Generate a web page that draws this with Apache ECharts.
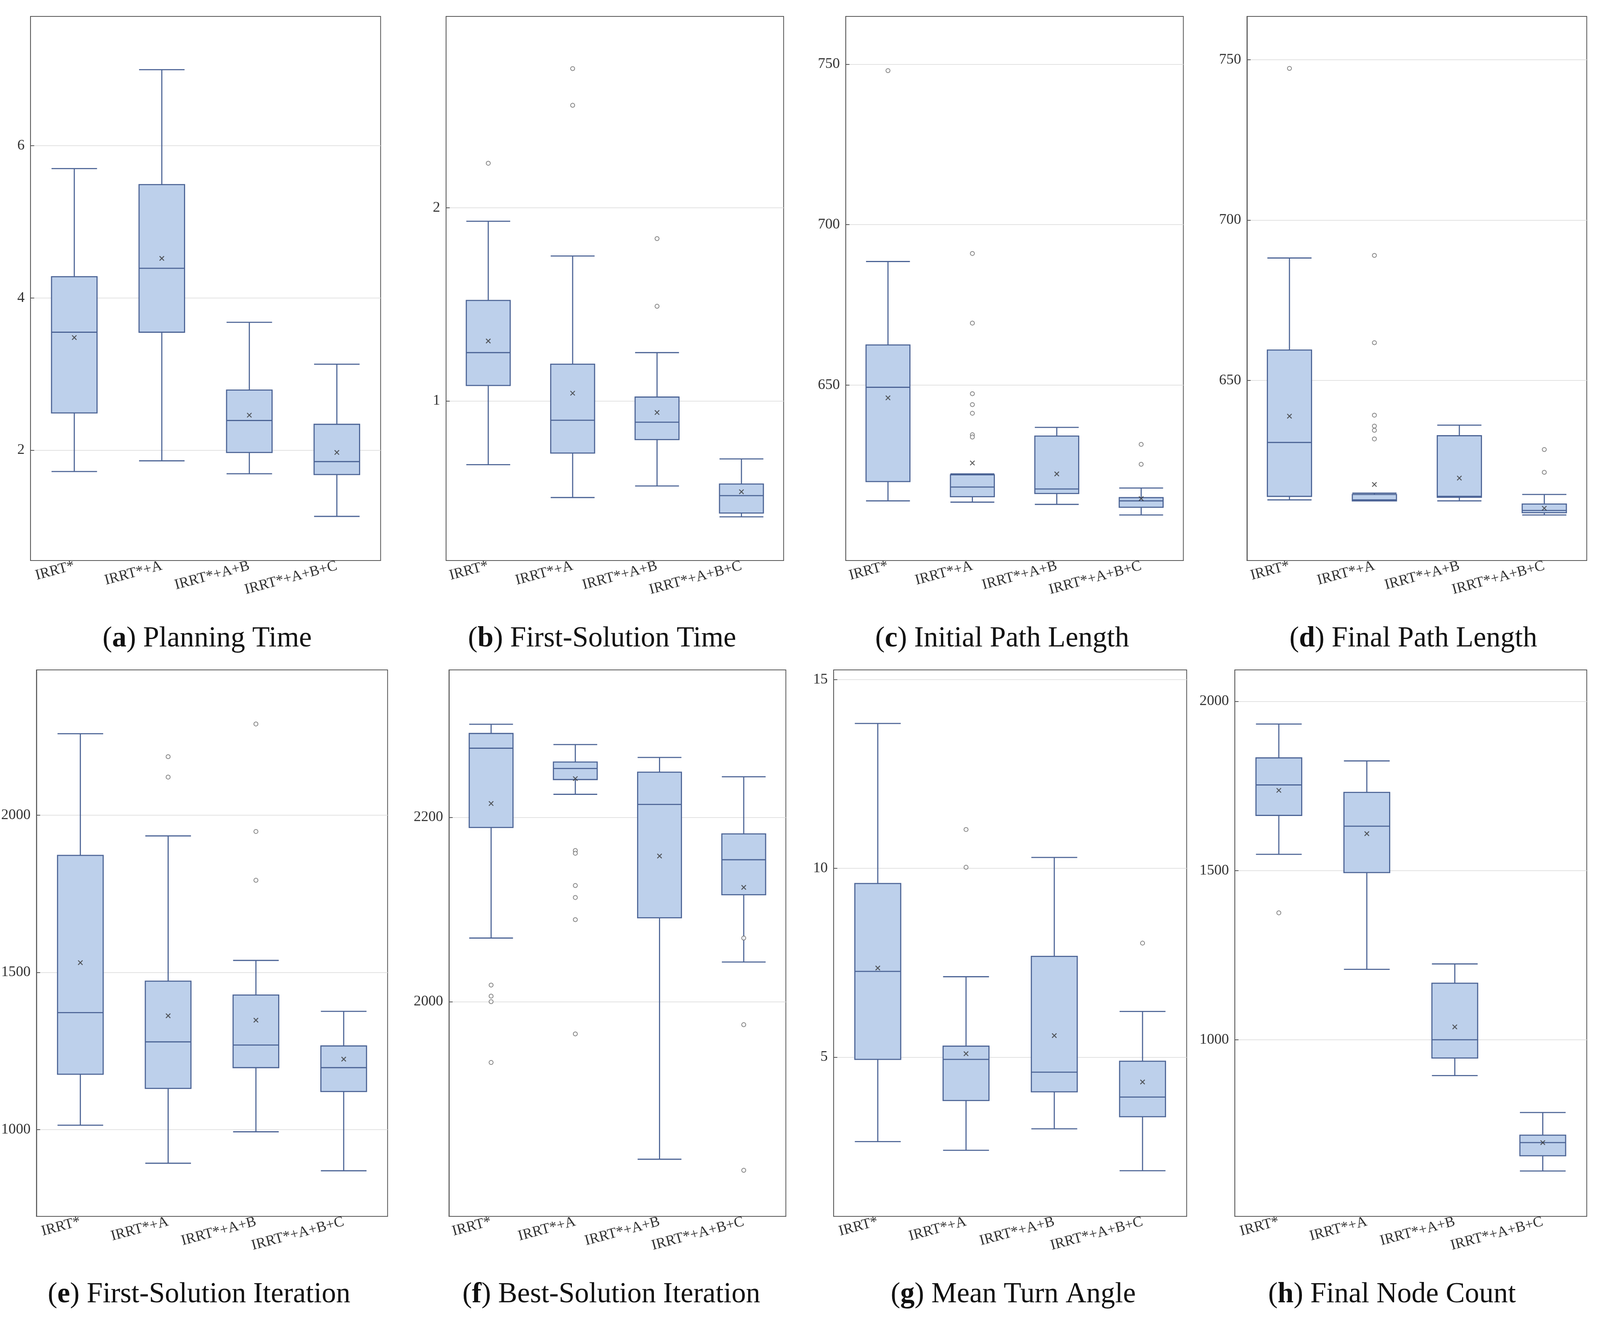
<!DOCTYPE html>
<html>
<head>
<meta charset="utf-8">
<title>Boxplots</title>
<script src="https://cdn.jsdelivr.net/npm/echarts@6/dist/echarts.min.js"></script>
<style>html,body{margin:0;background:#fff;overflow:hidden}</style>
</head>
<body>
<div id="main"></div>
<script>
var categories = ['IRRT*', 'IRRT*+A', 'IRRT*+A+B', 'IRRT*+A+B+C'];
var captions = [['a','Planning Time'],['b','First-Solution Time'],['c','Initial Path Length'],['d','Final Path Length'],
  ['e','First-Solution Iteration'],['f','Best-Solution Iteration'],['g','Mean Turn Angle'],['h','Final Node Count']];

// [min, Q1, median, Q3, max]
var planningBox = [[1.72,2.49,3.55,4.28,5.7],[1.86,3.55,4.39,5.49,7.0],[1.69,1.97,2.39,2.79,3.68],[1.13,1.68,1.85,2.34,3.13]];
var planningMean = [3.48,4.52,2.46,1.97];
var planningOut = [[],[],[],[]];

var firstTimeBox = [[0.67,1.08,1.25,1.52,1.93],[0.50,0.73,0.90,1.19,1.75],[0.56,0.80,0.89,1.02,1.25],[0.40,0.42,0.51,0.57,0.70]];
var firstTimeMean = [1.31,1.04,0.94,0.53];
var firstTimeOut = [[2.23],[2.72,2.53],[1.84,1.49],[]];

var initLenBox = [[613.9,619.9,649.3,662.5,688.5],[613.5,615.2,618.2,622,622.3],[612.8,616.2,617.6,634.1,636.8],[609.5,611.9,613.9,614.9,617.9]];
var initLenMean = [646,625.7,622.3,614.6];
var initLenOut = [[748],[691,669.3,647.3,643.9,641.2,634.5,633.8],[],[631.5,625.3]];

var finalLenBox = [[612.8,613.9,630.7,659.5,688.2],[612.5,612.5,612.8,614.5,614.9],[612.5,613.6,613.9,632.8,636.1],[608.1,608.8,609.5,611.5,614.5]];
var finalLenMean = [638.9,617.6,619.6,610.2];
var finalLenOut = [[747.3],[689,661.8,639.2,635.8,634.5,631.8],[],[628.5,621.4]];

var firstIterBox = [[1014,1176,1372,1872,2259],[893,1131,1279,1472,1934],[993,1197,1269,1428,1538],[869,1121,1197,1266,1376]];
var firstIterMean = [1531,1362,1348,1224];
var firstIterOut = [[],[2186,2121],[2290,1948,1793],[]];

var bestIterBox = [[2069,2189,2275,2291,2301],[2225,2241,2253,2260,2279],[1829,2091,2214,2249,2265],[2043,2116,2154,2182,2244]];
var bestIterMean = [2215,2242,2158,2124];
var bestIterOut = [[2018,2006,2000,1934],[2164,2161,2126,2113,2089,1965],[],[2069,1975,1817]];

var turnBox = [[2.76,4.94,7.27,9.6,13.84],[2.53,3.85,4.94,5.29,7.13],[3.1,4.08,4.6,7.67,10.29],[1.99,3.42,3.94,4.89,6.21]];
var turnMean = [7.36,5.09,5.57,4.34];
var turnOut = [[],[11.03,10.03],[],[8.02]];

var nodeBox = [[1548,1663,1753,1833,1933],[1208,1494,1631,1731,1824],[894,946,1000,1167,1224],[612,657,696,718,785]];
var nodeMean = [1737,1609,1038,696];
var nodeOut = [[1375],[],[],[]];

var yMins = [0.55,0.174,595.3,593.9,724,1767,0.78,478];
var yMaxs = [7.7,2.99,764.9,763.5,2462,2360,15.26,2093];
var yTicks = [[2,4,6],[1,2],[650,700,750],[650,700,750],[1000,1500,2000],[2000,2200],[5,10,15],[1000,1500,2000]];

var boxes = [planningBox,firstTimeBox,initLenBox,finalLenBox,firstIterBox,bestIterBox,turnBox,nodeBox];
var means = [planningMean,firstTimeMean,initLenMean,finalLenMean,firstIterMean,bestIterMean,turnMean,nodeMean];
var outs = [planningOut,firstTimeOut,initLenOut,finalLenOut,firstIterOut,bestIterOut,turnOut,nodeOut];

// layout in 4351x3387 design space, scaled to the real window below
var grids = [
  [83,42,952,1393],[1213,42,918,1393],[2300,42,918,1393],[3391,42,924,1393],
  [55,1715,999,1399],[1221,1715,916,1399],[2267,1715,960,1399],[3358,1715,957,1399]];
var capX = [558,1632,2720,3838,536,1657,2750,3780];
var capY = [1637,1637,1637,1637,3316,3316,3316,3316];

var W = window.innerWidth || 4351, H = window.innerHeight || 3387;
var sx = W / 4351, sy = H / 3387, sf = Math.min(sx, sy);
var el = document.getElementById('main');
el.style.width = W + 'px';
el.style.height = H + 'px';

var serif = 'Liberation Serif';
var opt = {backgroundColor:'#fff', animation:false, grid:[], xAxis:[], yAxis:[], series:[], title:[]};
for (var i = 0; i < 8; i++) {
  var g = grids[i];
  opt.grid.push({left:g[0]*sx, top:g[1]*sy, width:g[2]*sx, height:g[3]*sy, show:true, borderColor:'#555', borderWidth:2, backgroundColor:'#fff'});
  opt.xAxis.push({type:'category', gridIndex:i, data:categories, boundaryGap:true,
    axisLine:{lineStyle:{color:'#555',width:2}}, axisTick:{show:false}, splitLine:{show:false},
    axisLabel:{rotate:15, interval:0, fontFamily:serif, fontSize:40*sf, color:'#333', margin:14*sf}});
  opt.yAxis.push({type:'value', gridIndex:i, min:yMins[i], max:yMaxs[i],
    axisLine:{show:true, lineStyle:{color:'#555',width:2}},
    axisTick:{show:true, inside:true, length:10*sf, customValues:yTicks[i], lineStyle:{color:'#555',width:2}},
    axisLabel:{customValues:yTicks[i], fontFamily:serif, fontSize:40*sf, color:'#333', margin:16*sf,
      formatter:function(v){return String(v);}},
    splitLine:{show:true, lineStyle:{color:'#e2e2e2', width:2}}});
  opt.series.push({type:'boxplot', xAxisIndex:i, yAxisIndex:i, data:boxes[i], boxWidth:['52%','52%'],
    itemStyle:{color:'#bdd0eb', borderColor:'#4b6395', borderWidth:3*sf},
    markLine:{silent:true, symbol:'none', label:{show:false}, lineStyle:{color:'#e2e2e2', width:2, type:'solid'},
      z:-1, data:categories.map(function(c){return {xAxis:c};})}});
  opt.series.push({type:'scatter', xAxisIndex:i, yAxisIndex:i,
    data:means[i].map(function(v,k){return [k,v];}),
    symbol:'path://M0,0L10,10M10,0L0,10', symbolSize:12*sf,
    itemStyle:{color:'none', borderColor:'#333', borderWidth:2.5*sf}, z:5});
  var od = [];
  outs[i].forEach(function(arr,k){arr.forEach(function(v){od.push([k,v]);});});
  opt.series.push({type:'scatter', xAxisIndex:i, yAxisIndex:i, data:od, symbol:'emptyCircle', symbolSize:11*sf,
    itemStyle:{color:'#666', borderColor:'#666', borderWidth:2*sf}, z:5});
  opt.title.push({text:'({b|'+captions[i][0]+'}) '+captions[i][1], left:capX[i]*sx, top:capY[i]*sy-45*sf, textAlign:'center',
    textStyle:{fontFamily:serif, fontSize:78*sf, fontWeight:'normal', color:'#111',
      rich:{b:{fontFamily:serif, fontSize:78*sf, fontWeight:'bold', color:'#111'}}}});
}
echarts.init(el).setOption(opt);
</script>
</body>
</html>
